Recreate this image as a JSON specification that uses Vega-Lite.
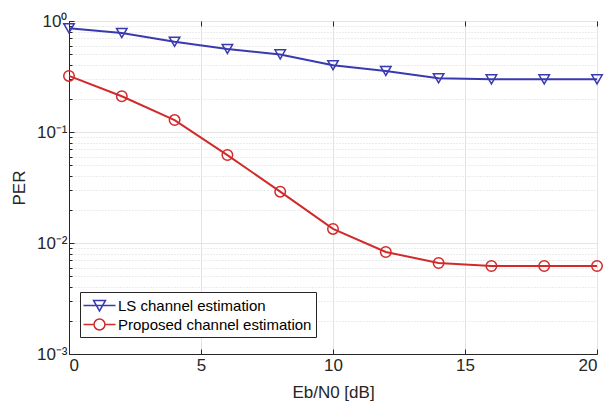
{
  "$schema": "https://vega.github.io/schema/vega-lite/v6.json",
  "width": 528,
  "height": 333,
  "autosize": {"type": "none"},
  "padding": {"left": 69, "top": 21, "right": 9, "bottom": 48},
  "background": "white",
  "config": {
    "view": {"stroke": "#262626", "strokeWidth": 1},
    "font": "Liberation Sans",
    "axis": {"labelFont": "Liberation Sans", "titleFont": "Liberation Sans", "labelColor": "#262626", "titleColor": "#262626", "titleFontWeight": "normal"},
    "legend": {"orient": "none", "legendX": 11, "legendY": 271, "title": null, "fillColor": "white", "strokeColor": "#262626", "padding": 4, "labelFontSize": 15, "labelFont": "Liberation Sans", "labelColor": "#000000", "labelLimit": 400, "symbolSize": 300, "symbolStrokeWidth": 1.5, "symbolOffset": 6, "labelOffset": 9, "rowPadding": 1}
  },
  "data": {
    "values": [
      {"x": 0, "y": 0.86, "s": "LS channel estimation"},
      {"x": 2, "y": 0.78, "s": "LS channel estimation"},
      {"x": 4, "y": 0.65, "s": "LS channel estimation"},
      {"x": 6, "y": 0.56, "s": "LS channel estimation"},
      {"x": 8, "y": 0.50, "s": "LS channel estimation"},
      {"x": 10, "y": 0.40, "s": "LS channel estimation"},
      {"x": 12, "y": 0.355, "s": "LS channel estimation"},
      {"x": 14, "y": 0.305, "s": "LS channel estimation"},
      {"x": 16, "y": 0.298, "s": "LS channel estimation"},
      {"x": 18, "y": 0.298, "s": "LS channel estimation"},
      {"x": 20, "y": 0.298, "s": "LS channel estimation"},
      {"x": 0, "y": 0.32, "s": "Proposed channel estimation"},
      {"x": 2, "y": 0.21, "s": "Proposed channel estimation"},
      {"x": 4, "y": 0.128, "s": "Proposed channel estimation"},
      {"x": 6, "y": 0.062, "s": "Proposed channel estimation"},
      {"x": 8, "y": 0.029, "s": "Proposed channel estimation"},
      {"x": 10, "y": 0.0134, "s": "Proposed channel estimation"},
      {"x": 12, "y": 0.0083, "s": "Proposed channel estimation"},
      {"x": 14, "y": 0.0066, "s": "Proposed channel estimation"},
      {"x": 16, "y": 0.0062, "s": "Proposed channel estimation"},
      {"x": 18, "y": 0.0062, "s": "Proposed channel estimation"},
      {"x": 20, "y": 0.0062, "s": "Proposed channel estimation"}
    ]
  },
  "resolve": {"axis": {"y": "independent", "x": "independent"}},
  "layer": [
    {
      "mark": {"type": "line", "strokeWidth": 2},
      "encoding": {
        "x": {"field": "x", "type": "quantitative", "scale": {"domain": [0, 20], "nice": false},
          "axis": {"orient": "top", "values": [0, 5, 10, 15, 20], "labels": false, "grid": false, "domain": false, "tickSize": -5, "tickColor": "#262626", "title": null}},
        "y": {"field": "y", "type": "quantitative", "scale": {"type": "log", "domain": [0.001, 1], "nice": false},
          "axis": {"orient": "left", "values": [0.002,0.003,0.004,0.005,0.006,0.007,0.008,0.009,0.02,0.03,0.04,0.05,0.06,0.07,0.08,0.09,0.2,0.3,0.4,0.5,0.6,0.7,0.8,0.9],
            "labels": false, "domain": false, "grid": true, "gridColor": "#d9d9d9", "gridDash": [1, 2], "gridWidth": 1, "tickSize": -3, "tickColor": "#262626", "title": null}},
        "color": {"field": "s", "type": "nominal", "scale": {"domain": ["LS channel estimation", "Proposed channel estimation"], "range": ["#3a3ab0", "#d22a2a"]},
          "legend": {"symbolType": "M-1.85,0L1.85,0", "encode": {"symbols": {"update": {"shape": {"signal": "datum.value == 'LS channel estimation' ? 'M-1.85,0L1.85,0M-0.69,-0.58L0.69,-0.58L0,0.63Z' : 'M-1.85,0L-0.63,0M0.63,0L1.85,0M0.63,0A0.63,0.63,0,1,1,-0.63,0A0.63,0.63,0,1,1,0.63,0'"}, "fill": {"value": "transparent"}}}}}}
      }
    },
    {
      "transform": [{"filter": "datum.s == 'LS channel estimation'"}],
      "mark": {"type": "point", "shape": "triangle-down", "filled": false, "size": 110, "strokeWidth": 1.5, "opacity": 1},
      "encoding": {
        "x": {"field": "x", "type": "quantitative",
          "axis": {"orient": "bottom", "values": [0, 5, 10, 15, 20], "grid": true, "gridColor": "#e3e3e3", "gridWidth": 1, "tickSize": -5, "tickColor": "#262626", "domainColor": "#262626", "labelFontSize": 17, "labelPadding": 8, "title": "Eb/N0 [dB]", "titleFontSize": 17, "titlePadding": 11}},
        "y": {"field": "y", "type": "quantitative",
          "axis": {"orient": "left", "values": [0.001, 0.01, 0.1, 1], "grid": true, "gridColor": "#e3e3e3", "gridWidth": 1, "tickSize": -5, "tickColor": "#262626", "domainColor": "#262626", "labelFontSize": 17, "labelPadding": 7,
            "labelExpr": "datum.value >= 1 ? '10⁰' : datum.value >= 0.1 ? '10⁻¹' : datum.value >= 0.01 ? '10⁻²' : '10⁻³'",
            "title": "PER", "titleFontSize": 17, "titlePadding": 8}},
        "color": {"field": "s", "type": "nominal"}
      }
    },
    {
      "transform": [{"filter": "datum.s == 'Proposed channel estimation'"}],
      "mark": {"type": "point", "shape": "circle", "filled": false, "size": 110, "strokeWidth": 1.5, "opacity": 1},
      "encoding": {
        "x": {"field": "x", "type": "quantitative", "axis": null},
        "y": {"field": "y", "type": "quantitative", "axis": null},
        "color": {"field": "s", "type": "nominal"}
      }
    }
  ]
}
